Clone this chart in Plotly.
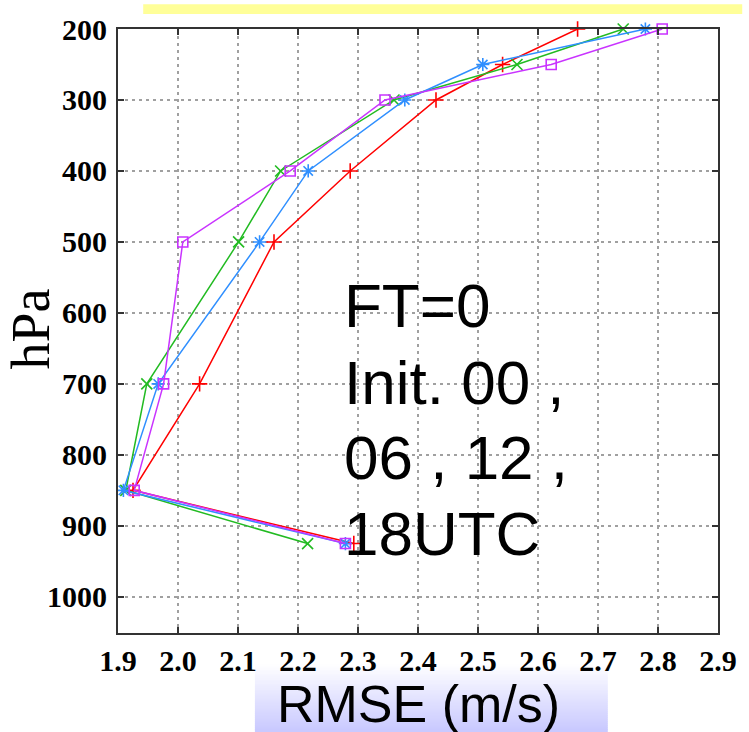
import plotly.graph_objects as go

# ---- data ----
levels = [200, 250, 300, 400, 500, 700, 850, 925]
rmse_00 = [2.666, 2.541, 2.430, 2.287, 2.160, 2.036, 1.925, 2.293]
rmse_06 = [2.742, 2.565, 2.360, 2.171, 2.101, 1.948, 1.913, 2.216]
rmse_12 = [2.779, 2.508, 2.378, 2.217, 2.136, 1.967, 1.909, 2.279]
rmse_18 = [2.807, 2.622, 2.345, 2.187, 2.008, 1.976, 1.927, 2.279]
series_names = ["00UTC", "06UTC", "12UTC", "18UTC"]
x_ticks = [1.9, 2.0, 2.1, 2.2, 2.3, 2.4, 2.5, 2.6, 2.7, 2.8, 2.9]
y_ticks = [200, 300, 400, 500, 600, 700, 800, 900, 1000]
note_lines = ["FT=0", "Init. 00 ,", "06 , 12 ,", "18UTC"]
x_title = "RMSE (m/s)"
y_title = "hPa"

W, H = 749, 732
L, R, T, B = 117.5, 24.5, 25, 99
PW, PH = W - L - R, H - T - B


def px(x):
    return (x - L) / PW


def py(y):
    return (H - B - y) / PH


colors = ["#ff0000", "#22bb22", "#2f8fff", "#c933ff"]
symbols = ["cross-thin", "x-thin", "asterisk", "square-open"]
sizes = [11, 11, 11, 10]
data = [rmse_00, rmse_06, rmse_12, rmse_18]

fig = go.Figure()
for name, vals, c, s, sz in zip(series_names, data, colors, symbols, sizes):
    fig.add_trace(go.Scatter(
        x=vals, y=levels, mode="lines+markers", name=name,
        line=dict(color=c, width=1.5),
        marker=dict(symbol=s, size=sz, color=c, line=dict(color=c, width=1.6)),
        cliponaxis=False,
    ))

tickfont = dict(family="Liberation Serif", size=30, color="black", weight="bold")
axis_common = dict(
    showline=True, linecolor="#333333", linewidth=2, mirror="ticks",
    ticks="inside", ticklen=6, tickwidth=1.5, tickcolor="#333333",
    showgrid=True, gridcolor="#a0a0a0", gridwidth=1.5, griddash="3px,4px",
    zeroline=False, tickfont=tickfont,
)

fig.update_layout(
    width=W, height=H,
    margin=dict(l=L, r=R, t=T, b=B),
    paper_bgcolor="white", plot_bgcolor="white",
    showlegend=False,
    xaxis=dict(range=[1.9, 2.9], tickvals=x_ticks,
               ticktext=[f"{v:.1f}" for v in x_ticks], ticklabelstandoff=0,
               **axis_common),
    yaxis=dict(range=[1051, 200], tickvals=y_ticks,
               ticktext=[str(v) for v in y_ticks], ticklabelstandoff=3,
               **axis_common),
)

shapes = []
# yellow banner at top
shapes.append(dict(type="rect", xref="paper", yref="paper",
                   x0=px(143), x1=px(749), y0=py(10), y1=py(0),
                   fillcolor="#ffff99", line=dict(width=0), layer="below"))
# gradient box behind x title
x0b, x1b, y0b, y1b = 256, 613, 664, 732
n = 34
top_c = (255, 255, 255)
bot_c = (200, 200, 255)
for i in range(n):
    t = (i + 0.5) / n
    c = tuple(round(top_c[k] + (bot_c[k] - top_c[k]) * t) for k in range(3))
    ya = y0b + (y1b - y0b) * i / n
    yb = y0b + (y1b - y0b) * (i + 1) / n + 0.6
    shapes.append(dict(type="rect", xref="paper", yref="paper",
                       x0=px(x0b), x1=px(x1b), y0=py(yb), y1=py(ya),
                       fillcolor="rgb(%d,%d,%d)" % c, line=dict(width=0),
                       layer="below"))
fig.update_layout(shapes=shapes)

ann = []
note_centers = [303.5, 381, 456, 533]
for txt, cy in zip(note_lines, note_centers):
    ann.append(dict(text=txt, xref="paper", yref="paper", x=px(344), y=py(cy),
                    xanchor="left", yanchor="middle", showarrow=False,
                    font=dict(family="Liberation Sans", size=62, color="black")))
ann.append(dict(text=x_title, xref="paper", yref="paper", x=px(421), y=py(704),
                xanchor="center", yanchor="middle", showarrow=False,
                font=dict(family="Liberation Sans", size=52, color="black")))
ann.append(dict(text=y_title, xref="paper", yref="paper", x=px(30), y=py(327),
                xanchor="center", yanchor="middle", showarrow=False, textangle=-90,
                font=dict(family="Liberation Serif", size=54, color="black")))
fig.update_layout(annotations=ann)

fig.write_html("out.html")
